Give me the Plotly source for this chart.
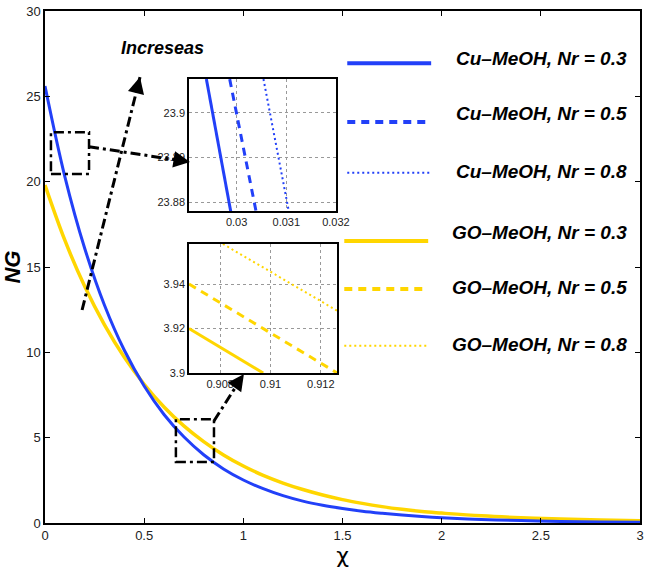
import plotly.graph_objects as go

# ---------------- data ----------------
chi = [0.0, 0.1, 0.2, 0.3, 0.4, 0.5, 0.6, 0.7, 0.8, 0.9, 1.0, 1.1, 1.2, 1.3, 1.4,
       1.5, 1.6, 1.7, 1.8, 1.9, 2.0, 2.2, 2.4, 2.6, 2.8, 3.0]
ng_cu = [25.60, 20.30, 16.10, 12.76, 10.12, 8.03, 6.36, 5.05, 4.00, 3.17, 2.52, 2.01,
         1.60, 1.28, 1.04, 0.85, 0.69, 0.57, 0.47, 0.38, 0.31, 0.21, 0.14, 0.09, 0.06, 0.04]
ng_go = [19.80, 16.57, 13.87, 11.61, 9.71, 8.13, 6.80, 5.69, 4.77, 3.99, 3.34, 2.79,
         2.34, 1.96, 1.64, 1.37, 1.15, 0.96, 0.80, 0.67, 0.58, 0.42, 0.31, 0.23, 0.17, 0.13]

# inset 1 (Cu-MeOH) zoom
cu_in_x = {"0.3": [0.02939, 0.02988], "0.5": [0.02986, 0.03039], "0.8": [0.03054, 0.03105]}
cu_in_y = {"0.3": [23.9075, 23.878], "0.5": [23.9075, 23.878], "0.8": [23.9075, 23.878]}
# inset 2 (GO-MeOH) zoom
go_in_x = {"0.3": [0.90676, 0.90971], "0.5": [0.90676, 0.91265], "0.8": [0.90811, 0.91265]}
go_in_y = {"0.3": [3.92, 3.90], "0.5": [3.94, 3.90], "0.8": [3.958, 3.928]}

nr_values = ["0.3", "0.5", "0.8"]
legend_labels = ["Cu\u2013MeOH, Nr = 0.3", "Cu\u2013MeOH, Nr = 0.5", "Cu\u2013MeOH, Nr = 0.8",
                 "GO\u2013MeOH, Nr = 0.3", "GO\u2013MeOH, Nr = 0.5", "GO\u2013MeOH, Nr = 0.8"]

main_xticks = [0, 0.5, 1, 1.5, 2, 2.5, 3]
main_xticktext = ["0", "0.5", "1", "1.5", "2", "2.5", "3"]
main_yticks = [0, 5, 10, 15, 20, 25, 30]
in1_xticks = [0.03, 0.031, 0.032]
in1_xtext = ["0.03", "0.031", "0.032"]
in1_yticks = [23.88, 23.89, 23.9]
in1_ytext = ["23.88", "23.89", "23.9"]
in2_xticks = [0.908, 0.91, 0.912]
in2_xtext = ["0.908", "0.91", "0.912"]
in2_yticks = [3.9, 3.92, 3.94]
in2_ytext = ["3.9", "3.92", "3.94"]

# ---------------- styles ----------------
BLUE = "#2240F8"
YELLOW = "#FFD600"
dash_of = {"0.3": "solid", "0.5": "8px,6px", "0.8": "2px,3px"}
width_of = {"0.3": 3, "0.5": 3, "0.8": 2}
FONT = "Liberation Sans Narrow, Liberation Sans, Arial, sans-serif"
DASHDOT = "10px,4px,3px,4px"

fig = go.Figure()

# main curves
fig.add_trace(go.Scatter(x=chi, y=ng_go, mode="lines", line=dict(color=YELLOW, width=3.5, shape="spline"),
                         showlegend=False, xaxis="x", yaxis="y"))
fig.add_trace(go.Scatter(x=chi, y=ng_cu, mode="lines", line=dict(color=BLUE, width=3, shape="spline"),
                         showlegend=False, xaxis="x", yaxis="y"))

# insets
for nr in nr_values:
    fig.add_trace(go.Scatter(x=cu_in_x[nr], y=cu_in_y[nr], mode="lines",
                             line=dict(color=BLUE, width=width_of[nr], dash=dash_of[nr]),
                             showlegend=False, xaxis="x2", yaxis="y2", cliponaxis=True))
    fig.add_trace(go.Scatter(x=go_in_x[nr], y=go_in_y[nr], mode="lines",
                             line=dict(color=YELLOW, width=width_of[nr], dash=dash_of[nr]),
                             showlegend=False, xaxis="x3", yaxis="y3", cliponaxis=True))

axis_common = dict(showline=True, linecolor="black", linewidth=1.5, mirror="ticks",
                   ticks="inside", ticklen=5, tickcolor="black", zeroline=False, automargin=False,
                   showgrid=False, tickfont=dict(family=FONT, size=13, color="#222"))
inset_common = dict(showline=True, linecolor="black", linewidth=1.5, mirror=True, automargin=False,
                    ticks="", zeroline=False, showgrid=True, gridcolor="#999",
                    griddash="dot", gridwidth=1, tickfont=dict(family=FONT, size=11, color="#222"))

fig.update_layout(
    width=645, height=574,
    margin=dict(l=45, r=5, t=11, b=51),
    paper_bgcolor="white", plot_bgcolor="white",
    xaxis=dict(range=[0, 3], tickvals=main_xticks, ticktext=main_xticktext, domain=[0, 1],
               title=dict(text="\u03c7", font=dict(family="DejaVu Sans", size=22, color="black"), standoff=4),
               **axis_common),
    yaxis=dict(range=[0, 30], tickvals=main_yticks, domain=[0, 1],
               title=dict(text="<b><i>NG</i></b>", font=dict(family="Liberation Sans, Arial", size=22, color="black"), standoff=2),
               **axis_common),
    xaxis2=dict(range=[0.02904, 0.032], domain=[0.242, 0.489], anchor="y2",
                tickvals=in1_xticks, ticktext=in1_xtext, **inset_common),
    yaxis2=dict(range=[23.878, 23.9075], domain=[0.609, 0.867], anchor="x2",
                tickvals=in1_yticks, ticktext=in1_ytext, **inset_common),
    xaxis3=dict(range=[0.90676, 0.91265], domain=[0.242, 0.491], anchor="y3",
                tickvals=in2_xticks, ticktext=in2_xtext, **inset_common),
    yaxis3=dict(range=[3.9, 3.958], domain=[0.293, 0.545], anchor="x3",
                tickvals=in2_yticks, ticktext=in2_ytext, **inset_common),
)

shapes = []
# dash-dot zoom boxes
shapes.append(dict(type="rect", xref="x", yref="y", x0=0.03, x1=0.222, y0=20.45, y1=22.9,
                   line=dict(color="black", width=2.5, dash=DASHDOT)))
shapes.append(dict(type="rect", xref="x", yref="y", x0=0.66, x1=0.852, y0=3.57, y1=6.08,
                   line=dict(color="black", width=2.5, dash=DASHDOT)))
# dash-dot arrow shafts
arrows = [((0.222, 22.05), (0.731, 21.15), -12, -2),
          ((0.187, 12.48), (0.479, 26.13), -3, 12),
          ((0.852, 5.98), (1.003, 8.73), -7, 10)]
for (x0, y0), (x1, y1), ax, ay in arrows:
    shapes.append(dict(type="line", xref="x", yref="y", x0=x0, y0=y0, x1=x1, y1=y1,
                       line=dict(color="black", width=3, dash=DASHDOT)))

# custom legend
leg_line_y = [0.898, 0.783, 0.684, 0.551, 0.457, 0.346]
leg_text_y = [0.908, 0.799, 0.686, 0.568, 0.459, 0.348]
leg_colors = [BLUE, BLUE, BLUE, YELLOW, YELLOW, YELLOW]
leg_nr = ["0.3", "0.5", "0.8", "0.3", "0.5", "0.8"]
leg_w = {"0.3": 4, "0.5": 4, "0.8": 2}
for i in range(6):
    x0 = 0.508 if i < 3 else 0.503
    shapes.append(dict(type="line", xref="paper", yref="paper", x0=x0, x1=x0 + 0.141,
                       y0=leg_line_y[i], y1=leg_line_y[i],
                       line=dict(color=leg_colors[i], width=leg_w[leg_nr[i]], dash=dash_of[leg_nr[i]])))
fig.update_layout(shapes=shapes)

annotations = []
for (x0, y0), (x1, y1), ax, ay in arrows:
    annotations.append(dict(x=x1, y=y1, xref="x", yref="y", ax=ax, ay=ay, text="", showarrow=True,
                            arrowhead=2, arrowsize=1.1, arrowwidth=3, arrowcolor="black"))
for i in range(6):
    annotations.append(dict(x=0.982, y=leg_text_y[i], xref="paper", yref="paper", xanchor="right",
                            yanchor="middle", showarrow=False,
                            text="<b><i>" + legend_labels[i] + "</i></b>",
                            font=dict(family="Liberation Sans, Arial", size=19, color="black")))
annotations.append(dict(x=0.59, y=27.83, xref="x", yref="y", showarrow=False,
                        text="<b><i>Increseas</i></b>",
                        font=dict(family="Liberation Sans, Arial", size=18, color="black")))
fig.update_layout(annotations=annotations)

fig.write_html("out.html", config={"displayModeBar": False},
               post_script="document.body.style.margin='0';document.body.style.overflow='hidden';")
